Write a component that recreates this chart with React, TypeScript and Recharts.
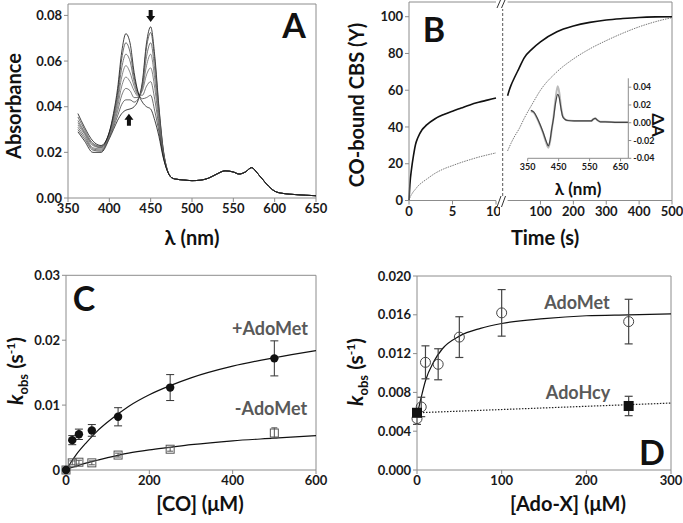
import React from 'react';
import {
  LineChart, Line, ComposedChart, Scatter, ErrorBar, XAxis, YAxis, ReferenceLine, ReferenceDot,
} from 'recharts';

// ---- Panel A: absorbance spectra (Soret region read per trace, visible band shared) ----
const aWavelengths = [362, 370, 380, 390, 400, 405, 410, 415, 420, 425, 430, 435, 440, 445, 450, 455, 460, 465, 470];
const spec1 = [0.029, 0.025, 0.020, 0.020, 0.026, 0.030, 0.034, 0.037, 0.0385, 0.039, 0.040, 0.043, 0.051, 0.068, 0.075, 0.062, 0.040, 0.022, 0.0125];
const spec2 = [0.030, 0.026, 0.021, 0.0205, 0.0265, 0.031, 0.036, 0.041, 0.043, 0.043, 0.042, 0.0435, 0.050, 0.066, 0.0725, 0.060, 0.039, 0.0215, 0.0125];
const spec3 = [0.031, 0.027, 0.0215, 0.021, 0.027, 0.032, 0.038, 0.045, 0.048, 0.047, 0.044, 0.044, 0.049, 0.062, 0.068, 0.056, 0.037, 0.021, 0.0124];
const spec4 = [0.032, 0.028, 0.022, 0.0215, 0.0275, 0.033, 0.040, 0.049, 0.053, 0.051, 0.047, 0.0445, 0.048, 0.058, 0.063, 0.052, 0.035, 0.020, 0.0123];
const spec5 = [0.033, 0.0285, 0.023, 0.022, 0.028, 0.034, 0.042, 0.053, 0.058, 0.055, 0.049, 0.045, 0.047, 0.054, 0.057, 0.048, 0.033, 0.0195, 0.0122];
const spec6 = [0.034, 0.029, 0.0235, 0.0222, 0.0285, 0.035, 0.044, 0.057, 0.063, 0.060, 0.051, 0.0455, 0.045, 0.049, 0.051, 0.043, 0.031, 0.019, 0.0121];
const spec7 = [0.0355, 0.030, 0.024, 0.0226, 0.0288, 0.036, 0.046, 0.061, 0.068, 0.064, 0.053, 0.046, 0.0435, 0.044, 0.045, 0.038, 0.029, 0.0185, 0.012];
const spec8 = [0.037, 0.031, 0.025, 0.023, 0.029, 0.037, 0.048, 0.064, 0.072, 0.068, 0.055, 0.046, 0.042, 0.040, 0.039, 0.034, 0.027, 0.018, 0.012];
const aSpectra = [spec1, spec2, spec3, spec4, spec5, spec6, spec7, spec8];
const aColors = ['#111', '#444', '#555', '#666', '#666', '#555', '#444', '#111'];
const aTailWavelengths = [475, 480, 490, 500, 510, 520, 530, 540, 550, 557, 565, 572, 580, 590, 600, 610, 625, 650];
const aTail = [0.009, 0.0083, 0.0079, 0.0076, 0.0078, 0.0087, 0.0105, 0.0119, 0.0114, 0.0105, 0.0115, 0.0133, 0.0105, 0.0062, 0.003, 0.002, 0.0015, 0.001];

// ---- Panel B: CO binding time courses, split axis ----
const bLeftTime = [0, 0.1, 0.3, 0.5, 0.75, 1, 1.5, 2, 3, 4, 5, 6, 7, 8, 9, 10];
const bLeftSolid = [0, 8.5, 17.5, 24, 30.5, 34, 38.5, 41, 44.5, 46.8, 48.6, 50.3, 52, 53.4, 54.6, 55.8];
const bLeftDotted = [0, 1.5, 3.3, 4.8, 6.2, 7.7, 9.8, 11.5, 14.8, 17.2, 19, 20.7, 22.2, 23.6, 24.8, 25.9];
const bRightTime = [0, 5, 10, 20, 35, 50, 75, 100, 150, 200, 250, 300, 350, 400, 450, 500];
const bRightSolid = [57, 60, 62.5, 66.5, 72, 77.5, 82.5, 86.3, 91.8, 94.9, 96.9, 98.2, 99, 99.6, 99.9, 100];
const bRightDotted = [27, 29, 31, 34.5, 39, 44.5, 52.5, 60, 70, 77, 82.5, 87, 91, 94.5, 97.3, 99.5];

// inset difference spectra
const insetWl = [360, 370, 380, 390, 400, 410, 417, 422, 428, 433, 440, 447, 452, 458, 463, 470, 480, 500, 530, 555, 562, 568, 575, 585, 600, 640, 675];
const insetDark = [0.014, 0.012, 0.006, -0.002, -0.011, -0.021, -0.026, -0.02, -0.006, 0.004, 0.022, 0.032, 0.028, 0.015, 0.007, 0.004, 0.0025, 0.002, 0.002, 0.002, 0.004, 0.005, 0.003, 0.001, 0.001, 0.0005, 0.0005];
const insetLight = [0.013, 0.011, 0.005, -0.003, -0.012, -0.023, -0.028, -0.022, -0.007, 0.005, 0.027, 0.041, 0.034, 0.017, 0.008, 0.004, 0.0025, 0.002, 0.002, 0.002, 0.004, 0.005, 0.003, 0.001, 0.001, 0.0005, 0.0005];

// ---- Panel C: kobs vs [CO] ----
const cConc = [0, 15, 31, 62, 125, 250, 500];
const cPlus = [0, 0.0046, 0.0055, 0.0061, 0.0082, 0.0127, 0.0172];
const cPlusErr = [0, 0.0007, 0.0008, 0.0009, 0.0014, 0.002, 0.0027];
const cMinus = [0, 0.0011, 0.0012, 0.0011, 0.0023, 0.0032, 0.0057];
const cMinusErr = [0, 0.0003, 0.0003, 0.0003, 0.0003, 0.0003, 0.0008];
const cFitX = [0, 10, 25, 50, 75, 100, 150, 200, 250, 300, 400, 500, 600];
const cFitPlus = [0, 0.001, 0.0024, 0.0043, 0.006, 0.0074, 0.0098, 0.0116, 0.013, 0.0142, 0.016, 0.0173, 0.0184];
const cFitMinus = [0, 0.0003, 0.0006, 0.0011, 0.0015, 0.0019, 0.0026, 0.0031, 0.0035, 0.0039, 0.0045, 0.0049, 0.0053];

// ---- Panel D: kobs vs [Ado-X] ----
const dConc = [0, 5, 10, 25, 50, 100, 250];
const dAdoMet = [0.0053, 0.0065, 0.0111, 0.0109, 0.0137, 0.0162, 0.0153];
const dAdoMetErr = [0.0006, 0.001, 0.0017, 0.0016, 0.0021, 0.0024, 0.0023];
const dHcyConc = [0, 250];
const dAdoHcy = [0.0059, 0.0066];
const dAdoHcyErr = [0.0004, 0.001];
const dFitX = [0, 5, 10, 20, 30, 50, 75, 100, 150, 200, 250, 300];
const dFitAdoMet = [0.0056, 0.0075, 0.0092, 0.0112, 0.0125, 0.0138, 0.0146, 0.0151, 0.0156, 0.0159, 0.016, 0.0161];
const dHcyLineX = [0, 300];
const dHcyLine = [0.0059, 0.0069];

const font = 'Lato, "Open Sans", sans-serif';
const axisColor = '#8c8c8c';
const tick = { fontSize: 13, fontWeight: 700, fill: '#1a1a1a', fontFamily: font };
const smallTick = { fontSize: 9, fontWeight: 700, fill: '#1a1a1a', fontFamily: font };

const zip = (xs: number[], ys: number[], es?: number[]) =>
  xs.map((x, i) => ({ x, y: ys[i], e: es ? es[i] : 0 }));

const aRows = [
  ...aWavelengths.map((wl, i) => {
    const r: any = { wl };
    aSpectra.forEach((s, k) => { r['s' + k] = s[i]; });
    return r;
  }),
  ...aTailWavelengths.map((wl, i) => {
    const r: any = { wl };
    aSpectra.forEach((_, k) => { r['s' + k] = aTail[i]; });
    return r;
  }),
];
const bLeftRows = bLeftTime.map((t, i) => ({ t, a: bLeftSolid[i], b: bLeftDotted[i] }));
const bRightRows = bRightTime.map((t, i) => ({ t, a: bRightSolid[i], b: bRightDotted[i] }));
const insetRows = insetWl.map((wl, i) => ({ wl, d: insetDark[i], l: insetLight[i] }));

const Txt: React.FC<{ x: number; y: number; rot?: number; size?: number; color?: string; children: React.ReactNode }> = ({
  x, y, rot = 0, size = 20, color = '#111', children,
}) => (
  <div
    style={{
      position: 'absolute', left: x, top: y, transform: `translate(-50%, -50%) rotate(${rot}deg)`,
      fontSize: size, fontWeight: 700, color, fontFamily: font, whiteSpace: 'nowrap', lineHeight: 1,
    }}
  >
    {children}
  </div>
);

const arrow = (dir: 'up' | 'down') => (props: any) => {
  const { cx, cy } = props;
  const s = dir === 'down' ? 1 : -1;
  return (
    <path
      d={`M${cx - 2},${cy - 6 * s} L${cx + 2},${cy - 6 * s} L${cx + 2},${cy} L${cx + 4.5},${cy} L${cx},${cy + 6 * s} L${cx - 4.5},${cy} L${cx - 2},${cy} Z`}
      fill="#111"
    />
  );
};

const kobs = (
  <span>
    <i>k</i><sub style={{ fontSize: 13, lineHeight: 0 }}>obs</sub> (s<sup style={{ fontSize: 12, lineHeight: 0 }}>-1</sup>)
  </span>
);

export default function App() {
  return (
    <div style={{ position: 'absolute', left: 0, top: 0, width: 683, height: 523, background: '#fff', overflow: 'hidden' }}>
      {/* Panel A */}
      <div style={{ position: 'absolute', left: 0, top: 0 }}>
        <LineChart width={340} height={260} data={aRows} margin={{ top: 4, right: 24, left: 0, bottom: 32 }}>
          <XAxis type="number" dataKey="wl" domain={[350, 650]} ticks={[350, 400, 450, 500, 550, 600, 650]}
            tick={tick} tickSize={4} stroke={axisColor} height={30} />
          <YAxis type="number" domain={[0, 0.085]} ticks={[0, 0.02, 0.04, 0.06, 0.08]} tickFormatter={(v) => v.toFixed(2)}
            tick={tick} tickSize={4} stroke={axisColor} width={68} />
          <ReferenceLine y={0.085} stroke={axisColor} />
          <ReferenceLine x={650} stroke={axisColor} />
          {aSpectra.map((_, k) => (
            <Line key={k} type="monotone" dataKey={'s' + k} stroke={aColors[k]} strokeWidth={0.8} dot={false} isAnimationActive={false} />
          ))}
          <ReferenceDot x={450} y={0.0797} r={0} shape={arrow('down')} />
          <ReferenceDot x={423.7} y={0.0343} r={0} shape={arrow('up')} />
        </LineChart>
      </div>
      <Txt x={13} y={106} rot={-90}>Absorbance</Txt>
      <Txt x={192} y={237}>λ (nm)</Txt>
      <Txt x={294} y={25} size={34}>A</Txt>

      {/* Panel B, left part */}
      <div style={{ position: 'absolute', left: 340, top: 0 }}>
        <LineChart width={160} height={260} data={bLeftRows} margin={{ top: 2, right: 4, left: 0, bottom: 29.5 }}>
          <XAxis type="number" dataKey="t" domain={[0, 10]} ticks={[0, 5, 10]} tick={tick} tickSize={4} stroke={axisColor} height={30} />
          <YAxis type="number" domain={[0, 108]} ticks={[0, 20, 40, 60, 80, 100]} tick={tick} tickSize={4} stroke={axisColor} width={69} />
          <ReferenceLine y={108} stroke={axisColor} />
          <Line type="monotone" dataKey="b" stroke="#777" strokeWidth={1} strokeDasharray="1.5 1" dot={false} isAnimationActive={false} />
          <Line type="monotone" dataKey="a" stroke="#111" strokeWidth={1.6} dot={false} isAnimationActive={false} />
        </LineChart>
      </div>
      {/* Panel B, right part */}
      <div style={{ position: 'absolute', left: 500, top: 0 }}>
        <LineChart width={183} height={260} data={bRightRows} margin={{ top: 2, right: 11, left: 7.6, bottom: 29.5 }}>
          <XAxis type="number" dataKey="t" domain={[0, 500]} ticks={[100, 200, 300, 400, 500]} tick={tick} tickSize={4} stroke={axisColor} height={30} />
          <YAxis type="number" domain={[0, 108]} hide />
          <ReferenceLine y={108} stroke={axisColor} />
          <ReferenceLine x={500} stroke={axisColor} />
          <Line type="monotone" dataKey="b" stroke="#777" strokeWidth={1} strokeDasharray="1.5 1" dot={false} isAnimationActive={false} />
          <Line type="monotone" dataKey="a" stroke="#111" strokeWidth={1.6} dot={false} isAnimationActive={false} />
        </LineChart>
      </div>
      <svg style={{ position: 'absolute', left: 0, top: 0 }} width={683} height={260}>
        <line x1={502.7} y1={8} x2={502.7} y2={196} stroke="#555" strokeDasharray="3 2" />
        <rect x={497} y={0} width={10} height={9} fill="#fff" />
        <line x1={497} y1={8} x2={500.5} y2={0} stroke="#333" />
        <line x1={501.5} y1={8} x2={505} y2={0} stroke="#333" />
        <rect x={497} y={196} width={10} height={11} fill="#fff" />
        <line x1={497} y1={207} x2={501} y2={196} stroke="#333" />
        <line x1={501.5} y1={207} x2={505.5} y2={196} stroke="#333" />
      </svg>
      {/* Inset */}
      <div style={{ position: 'absolute', left: 515, top: 70 }}>
        <LineChart width={168} height={125} data={insetRows} margin={{ top: 8.3, right: 24.7, left: 12.7, bottom: 20.7 }}>
          <XAxis type="number" dataKey="wl" domain={[350, 675]} ticks={[350, 450, 550, 650]} tick={smallTick} tickSize={3} stroke={axisColor} height={16} />
          <YAxis type="number" orientation="right" domain={[-0.04, 0.05]} ticks={[-0.04, -0.02, 0, 0.02, 0.04]}
            tickFormatter={(v) => v.toFixed(2)} tick={smallTick} tickSize={3} stroke={axisColor} width={30} />
          <Line type="monotone" dataKey="l" stroke="#bbb" strokeWidth={2} dot={false} isAnimationActive={false} />
          <Line type="monotone" dataKey="d" stroke="#444" strokeWidth={1.2} dot={false} isAnimationActive={false} />
        </LineChart>
      </div>
      <Txt x={658} y={125} rot={90} size={17}>ΔA</Txt>
      <Txt x={578} y={188} size={17}>λ (nm)</Txt>
      <Txt x={356} y={105} rot={-90}>CO-bound CBS (Y)</Txt>
      <Txt x={545} y={237}>Time (s)</Txt>
      <Txt x={434} y={29} size={34}>B</Txt>

      {/* Panel C */}
      <div style={{ position: 'absolute', left: 0, top: 260 }}>
        <ComposedChart width={340} height={263} margin={{ top: 15.3, right: 24, left: 0, bottom: 23 }}>
          <XAxis type="number" dataKey="x" domain={[0, 600]} ticks={[0, 200, 400, 600]} tick={tick} tickSize={4} stroke={axisColor} height={30} />
          <YAxis type="number" domain={[0, 0.03]} ticks={[0, 0.01, 0.02, 0.03]} tickFormatter={(v) => (v === 0 ? '0' : v.toFixed(2))}
            tick={tick} tickSize={4} stroke={axisColor} width={66} />
          <ReferenceLine y={0.03} stroke={axisColor} />
          <ReferenceLine x={600} stroke={axisColor} />
          <Line data={zip(cFitX, cFitPlus)} type="monotone" dataKey="y" stroke="#111" strokeWidth={1.2} dot={false} isAnimationActive={false} />
          <Line data={zip(cFitX, cFitMinus)} type="monotone" dataKey="y" stroke="#111" strokeWidth={1.2} dot={false} isAnimationActive={false} />
          <Scatter data={zip(cConc, cMinus, cMinusErr)} dataKey="y" isAnimationActive={false}
            shape={(p: any) => <rect x={p.cx - 4} y={p.cy - 4} width={8} height={8} fill="none" stroke="#555" strokeWidth={1} />}>
            <ErrorBar dataKey="e" direction="y" width={3} stroke="#555" strokeWidth={1} />
          </Scatter>
          <Scatter data={zip(cConc, cPlus, cPlusErr)} dataKey="y" isAnimationActive={false}
            shape={(p: any) => <circle cx={p.cx} cy={p.cy} r={4.2} fill="#111" />}>
            <ErrorBar dataKey="e" direction="y" width={4} stroke="#333" strokeWidth={1} />
          </Scatter>
        </ComposedChart>
      </div>
      <Txt x={14} y={371} rot={-90} size={21}>{kobs}</Txt>
      <Txt x={200} y={503}>[CO] (μM)</Txt>
      <Txt x={84} y={298} size={34}>C</Txt>
      <Txt x={270} y={328} size={18} color="#595959">+AdoMet</Txt>
      <Txt x={271} y={408} size={18} color="#595959">-AdoMet</Txt>

      {/* Panel D */}
      <div style={{ position: 'absolute', left: 340, top: 260 }}>
        <ComposedChart width={343} height={263} margin={{ top: 16, right: 12, left: 0, bottom: 23 }}>
          <XAxis type="number" dataKey="x" domain={[0, 300]} ticks={[0, 100, 200, 300]} tick={tick} tickSize={4} stroke={axisColor} height={30} />
          <YAxis type="number" domain={[0, 0.02]} ticks={[0, 0.004, 0.008, 0.012, 0.016, 0.02]} tickFormatter={(v) => v.toFixed(3)}
            tick={tick} tickSize={4} stroke={axisColor} width={77} />
          <ReferenceLine y={0.02} stroke={axisColor} />
          <ReferenceLine x={300} stroke={axisColor} />
          <Line data={zip(dHcyLineX, dHcyLine)} type="linear" dataKey="y" stroke="#222" strokeWidth={1.2} strokeDasharray="1.5 1.5" dot={false} isAnimationActive={false} />
          <Line data={zip(dFitX, dFitAdoMet)} type="monotone" dataKey="y" stroke="#111" strokeWidth={1.2} dot={false} isAnimationActive={false} />
          <Scatter data={zip(dConc, dAdoMet, dAdoMetErr)} dataKey="y" isAnimationActive={false}
            shape={(p: any) => <circle cx={p.cx} cy={p.cy} r={5} fill="none" stroke="#444" strokeWidth={1} />}>
            <ErrorBar dataKey="e" direction="y" width={4} stroke="#444" strokeWidth={1.2} />
          </Scatter>
          <Scatter data={zip(dHcyConc, dAdoHcy, dAdoHcyErr)} dataKey="y" isAnimationActive={false}
            shape={(p: any) => <rect x={p.cx - 5} y={p.cy - 5} width={10} height={10} fill="#111" />}>
            <ErrorBar dataKey="e" direction="y" width={4} stroke="#444" strokeWidth={1.2} />
          </Scatter>
        </ComposedChart>
      </div>
      <Txt x={354} y={372} rot={-90} size={21}>{kobs}</Txt>
      <Txt x={568} y={503}>[Ado-X] (μM)</Txt>
      <Txt x={652} y={452} size={34}>D</Txt>
      <Txt x={577} y={302} size={18} color="#595959">AdoMet</Txt>
      <Txt x={578} y={392} size={18} color="#595959">AdoHcy</Txt>
    </div>
  );
}
